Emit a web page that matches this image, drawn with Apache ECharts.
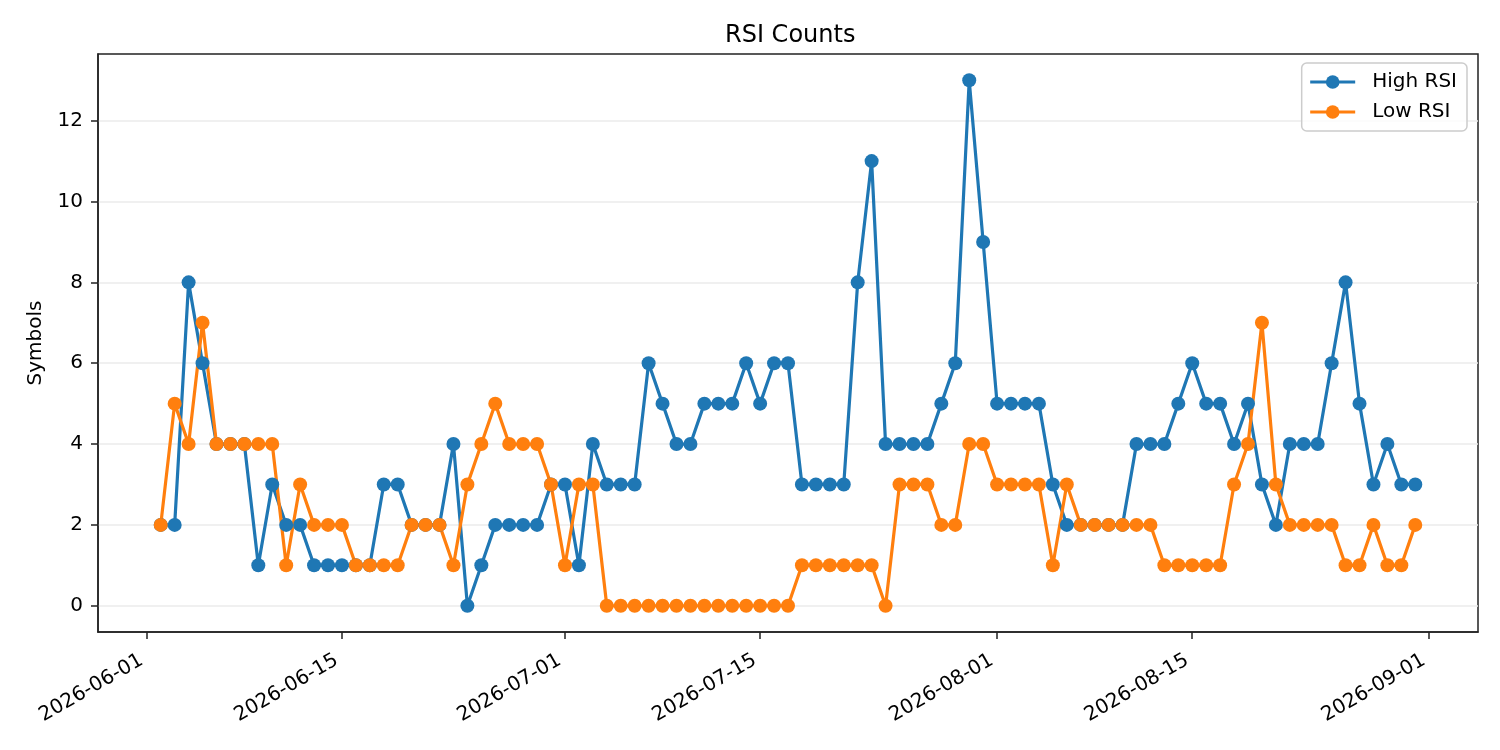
<!DOCTYPE html>
<html>
<head>
<meta charset="utf-8">
<script src="https://cdn.jsdelivr.net/npm/echarts@6/dist/echarts.min.js"></script>
<style>html,body{margin:0;padding:0;background:#fff}#c{width:1500px;height:750px}</style>
</head>
<body>
<div id="c"></div>
<script>
const dates = [
 '2026-06-02','2026-06-03','2026-06-04','2026-06-05','2026-06-06','2026-06-07','2026-06-08','2026-06-09','2026-06-10','2026-06-11',
 '2026-06-12','2026-06-13','2026-06-14','2026-06-15','2026-06-16','2026-06-17','2026-06-18','2026-06-19','2026-06-20','2026-06-21',
 '2026-06-22','2026-06-23','2026-06-24','2026-06-25','2026-06-26','2026-06-27','2026-06-28','2026-06-29','2026-06-30',
 '2026-07-01','2026-07-02','2026-07-03','2026-07-04','2026-07-05','2026-07-06','2026-07-07','2026-07-08','2026-07-09','2026-07-10',
 '2026-07-11','2026-07-12','2026-07-13','2026-07-14','2026-07-15','2026-07-16','2026-07-17','2026-07-18','2026-07-19','2026-07-20',
 '2026-07-21','2026-07-22','2026-07-23','2026-07-24','2026-07-25','2026-07-26','2026-07-27','2026-07-28','2026-07-29','2026-07-30','2026-07-31',
 '2026-08-01','2026-08-02','2026-08-03','2026-08-04','2026-08-05','2026-08-06','2026-08-07','2026-08-08','2026-08-09','2026-08-10',
 '2026-08-11','2026-08-12','2026-08-13','2026-08-14','2026-08-15','2026-08-16','2026-08-17','2026-08-18','2026-08-19','2026-08-20',
 '2026-08-21','2026-08-22','2026-08-23','2026-08-24','2026-08-25','2026-08-26','2026-08-27','2026-08-28','2026-08-29','2026-08-30','2026-08-31'
];
const highRSI = [
 2,2,8,6,4,4,4,1,3,2,
 2,1,1,1,1,1,3,3,2,2,
 2,4,0,1,2,2,2,2,3,
 3,1,4,3,3,3,6,5,4,4,
 5,5,5,6,5,6,6,3,3,3,
 3,8,11,4,4,4,4,5,6,13,9,
 5,5,5,5,3,2,2,2,2,2,
 4,4,4,5,6,5,5,4,5,3,
 2,4,4,4,6,8,5,3,4,3,3
];
const lowRSI = [
 2,5,4,7,4,4,4,4,4,1,
 3,2,2,2,1,1,1,1,2,2,
 2,1,3,4,5,4,4,4,3,
 1,3,3,0,0,0,0,0,0,0,
 0,0,0,0,0,0,0,1,1,1,
 1,1,1,0,3,3,3,2,2,4,4,
 3,3,3,3,1,3,2,2,2,2,
 2,2,1,1,1,1,1,3,4,7,
 3,2,2,2,2,1,1,2,1,1,2
];
const tickDates = ['2026-06-01','2026-06-15','2026-07-01','2026-07-15','2026-08-01','2026-08-15','2026-09-01'];
const yTicks = [0,2,4,6,8,10,12];
const xRange = ['2026-05-28T12:00:00Z','2026-09-04T12:00:00Z'];
const yRange = [-0.65, 13.65];

function ts(s){ const p = s.split('-').map(Number); return Date.UTC(p[0], p[1]-1, p[2]); }
function pad(n){ return (n<10?'0':'')+n; }
function fmt(v){ const d = new Date(v); return d.getUTCFullYear()+'-'+pad(d.getUTCMonth()+1)+'-'+pad(d.getUTCDate()); }

const FONT = 'DejaVu Sans';
const chart = echarts.init(document.getElementById('c'), null, {renderer:'canvas'});
chart.setOption({
  animation: false,
  backgroundColor: '#ffffff',
  textStyle: {fontFamily: FONT},
  title: {
    text: 'RSI Counts', left: 720, top: 19,
    textStyle: {fontFamily: FONT, fontSize: 24, fontWeight: 'normal', color: '#000'}
  },
  legend: {
    data: ['High RSI','Low RSI'],
    orient: 'vertical', right: 33, top: 63,
    backgroundColor: 'rgba(255,255,255,0.8)',
    borderColor: '#cccccc', borderWidth: 1.5, borderRadius: 5,
    padding: [9, 10, 9, 7],
    itemWidth: 45, itemHeight: 17, itemGap: 10,
    lineStyle: {width: 3},
    textStyle: {fontFamily: FONT, fontSize: 20, color: '#000', padding: [0,0,0,12]}
  },
  grid: {left: 98, right: 22, top: 54, bottom: 118, show: true, borderColor: '#222', borderWidth: 1.5, backgroundColor: 'transparent'},
  xAxis: {
    type: 'value',
    min: Date.parse(xRange[0]), max: Date.parse(xRange[1]),
    axisLine: {show: true, onZero: false, lineStyle: {color: '#222', width: 1.5}},
    axisTick: {show: true, length: 7, lineStyle: {color: '#222', width: 1.5}, customValues: tickDates.map(ts)},
    axisLabel: {
      customValues: tickDates.map(ts), rotate: 30, margin: 24, padding: [0, 6, 0, 0],
      fontFamily: FONT, fontSize: 20, color: '#000',
      formatter: v => fmt(v), hideOverlap: false, showMinLabel: true, showMaxLabel: true
    },
    splitLine: {show: false}
  },
  yAxis: {
    type: 'value', min: yRange[0], max: yRange[1],
    name: 'Symbols', nameLocation: 'middle', nameGap: 52, nameRotate: 90,
    nameTextStyle: {fontFamily: FONT, fontSize: 20, color: '#000'},
    axisLine: {show: true, lineStyle: {color: '#222', width: 1.5}},
    axisTick: {show: true, length: 7, lineStyle: {color: '#222', width: 1.5}, customValues: yTicks},
    axisLabel: {customValues: yTicks, margin: 15, fontFamily: FONT, fontSize: 20, color: '#000'},
    splitLine: {show: true, lineStyle: {color: '#ebebeb', width: 1.5}}
  },
  series: [
    {
      name: 'High RSI', type: 'line',
      data: dates.map((d,i)=>[ts(d), highRSI[i]]),
      symbol: 'circle', symbolSize: 14, showAllSymbol: true,
      itemStyle: {color: '#1f77b4'},
      lineStyle: {color: '#1f77b4', width: 3.2}
    },
    {
      name: 'Low RSI', type: 'line',
      data: dates.map((d,i)=>[ts(d), lowRSI[i]]),
      symbol: 'circle', symbolSize: 14, showAllSymbol: true,
      itemStyle: {color: '#ff7f0e'},
      lineStyle: {color: '#ff7f0e', width: 3.2}
    }
  ]
});
</script>
</body>
</html>
